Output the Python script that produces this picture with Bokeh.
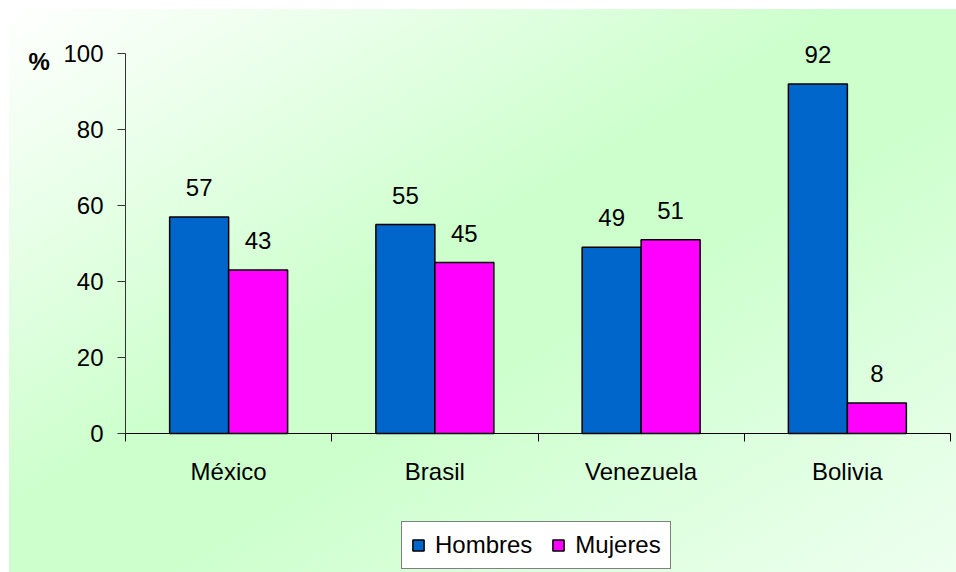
from bokeh.plotting import figure
from bokeh.core.properties import value
from bokeh.models import (ColumnDataSource, FixedTicker, LabelSet, Legend,
                          LegendItem, Range1d, Label)
from bokeh.embed import file_html
from bokeh.resources import INLINE

# Share of men and women by country (%)
countries = ["México", "Brasil", "Venezuela", "Bolivia"]
hombres = [57, 55, 49, 92]
mujeres = [43, 45, 51, 8]
y_ticks = [0, 20, 40, 60, 80, 100]

FONT = "Liberation Sans"
BLUE = "#0066CC"
MAGENTA = "#FF00FF"
OFFSET = 0.143
BAR_W = 0.286

W, H = 956, 572
# plot-area placement inside the canvas (pixels)
LEFT, RIGHT, TOP, BOTTOM = 125, 950, 53, 433
px_x = (RIGHT - LEFT) / len(countries)
px_y = (BOTTOM - TOP) / 100.0

centers = [i + 0.5 for i in range(len(countries))]
src = ColumnDataSource(dict(
    xh=[c - OFFSET for c in centers],
    xm=[c + OFFSET for c in centers],
    hombres=hombres,
    mujeres=mujeres,
    h_txt=[str(v) for v in hombres],
    m_txt=[str(v) for v in mujeres],
))

# The frame fills the whole canvas; axes are pinned at 0 so that labels,
# legend and unit marker can sit freely around the bars.
x_range = Range1d(-LEFT / px_x, len(countries) + (W - RIGHT) / px_x)
y_range = Range1d(-(H - BOTTOM) / px_y, BOTTOM / px_y)

p = figure(width=W, height=H, output_backend="svg", toolbar_location=None,
           x_range=x_range, y_range=y_range,
           min_border=0, min_border_left=0, min_border_right=0,
           min_border_top=0, min_border_bottom=0)

p.background_fill_alpha = 0
p.border_fill_alpha = 0
p.outline_line_color = None
p.xgrid.visible = False
p.ygrid.visible = False

# diagonal light-green backdrop behind the chart
p.styles = {
    "background-color": "white",
    "background-image": "linear-gradient(to bottom right, #ffffff 0%, #ccffcc 45%, #ccffcc 57%, #eefff0 100%)",
    "background-repeat": "no-repeat",
    "background-position": "9px 9px",
    "background-size": "947px 563px",
}

r_h = p.vbar(x="xh", top="hombres", width=BAR_W, source=src,
             fill_color=BLUE, line_color="black", line_width=1.5)
r_m = p.vbar(x="xm", top="mujeres", width=BAR_W, source=src,
             fill_color=MAGENTA, line_color="black", line_width=1.5)

for xcol, ycol, tcol in (("xh", "hombres", "h_txt"), ("xm", "mujeres", "m_txt")):
    p.add_layout(LabelSet(x=xcol, y=ycol, text=tcol, source=src,
                          y_offset=21, text_align="center",
                          text_baseline="alphabetic", text_font=value(FONT),
                          text_font_size="24px", text_color="black"))

# x axis: category names centred, tick marks between categories
xa = p.xaxis[0]
xa.fixed_location = 0
xa.bounds = (0, len(countries))
xa.ticker = FixedTicker(ticks=centers, minor_ticks=list(range(len(countries) + 1)))
xa.major_label_overrides = {c: n for c, n in zip(centers, countries)}
xa.major_tick_line_color = None
xa.major_tick_out = 0
xa.major_tick_in = 0
xa.minor_tick_line_color = "black"
xa.minor_tick_out = 8
xa.minor_tick_in = 0
xa.major_label_standoff = 16
xa.major_label_text_font = FONT
xa.major_label_text_font_size = "24px"
xa.major_label_text_color = "black"
xa.axis_line_color = "black"
xa.axis_line_width = 1.2

ya = p.yaxis[0]
ya.fixed_location = 0
ya.bounds = (0, 100)
ya.ticker = FixedTicker(ticks=y_ticks)
ya.major_tick_out = 8
ya.major_tick_in = 0
ya.minor_tick_line_color = None
ya.major_label_standoff = 14
ya.major_label_text_font = FONT
ya.major_label_text_font_size = "24px"
ya.major_label_text_color = "black"
ya.axis_line_color = "#333333"
ya.major_tick_line_color = "#333333"

# unit marker beside the top of the value axis
p.add_layout(Label(x=0, y=98, x_offset=-97, text="%",
                   text_font=FONT, text_font_size="24px",
                   text_font_style="bold", text_baseline="middle",
                   text_align="left", text_color="black"))

legend = Legend(items=[LegendItem(label="Hombres", renderers=[r_h]),
                       LegendItem(label="Mujeres", renderers=[r_m])],
                orientation="horizontal", location=(401, 3))
legend.label_text_font = FONT
legend.label_text_font_size = "24px"
legend.label_text_color = "black"
legend.glyph_width = 14
legend.glyph_height = 14
legend.label_standoff = 10
legend.spacing = 19
legend.padding = 9
legend.margin = 0
legend.border_line_color = "black"
legend.border_line_width = 1
legend.background_fill_color = "white"
legend.background_fill_alpha = 1
p.add_layout(legend, "center")

open("out.html", "w").write(file_html(p, INLINE))
